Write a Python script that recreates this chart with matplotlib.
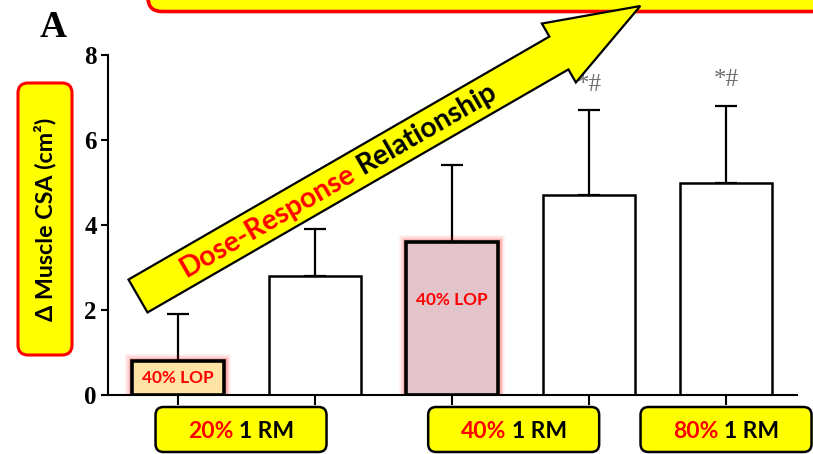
import matplotlib
matplotlib.use("Agg")
import matplotlib.pyplot as plt
import matplotlib.patheffects as pe
from matplotlib.patches import FancyBboxPatch, Polygon
from matplotlib.transforms import Affine2D
import numpy as np

# Change in muscle cross-sectional area for each training condition
conditions = ["20% 1 RM + LOP", "20% 1 RM", "40% 1 RM + LOP", "40% 1 RM", "80% 1 RM"]
csa_change = [0.8, 2.8, 3.6, 4.7, 5.0]
csa_sd = [1.1, 1.1, 1.8, 2.0, 1.8]
sig_marks = ["", "", "", "*#", "*#"]
bar_notes = ["40% LOP", "", "40% LOP", "", ""]
yticks = [0, 2, 4, 6, 8]

# Load-intensity groups shown under the axis
intensity = ["20%", "40%", "80%"]
intensity_unit = "1 RM"
intensity_at = [0.46, 2.45, 4.0]

W, H = 813, 454
YELLOW = "#FFFF00"
RED = "#FF0000"

fig = plt.figure(figsize=(W / 100, H / 100), dpi=100)
ax = fig.add_axes([108 / W, 1 - 395 / H, (797 - 108) / W, (395 - 55) / H])

# pixel frame with origin at the top-left corner of the figure
px = Affine2D().scale(1 / W, -1 / H).translate(0, 1) + fig.transFigure
renderer = fig.canvas.get_renderer()

SANS_BOLD = dict(family=["Lato", "DejaVu Sans"], weight="bold")


def text_width(s, size, **kw):
    t = fig.text(0, 0, s, fontsize=size, **kw)
    w = t.get_window_extent(renderer).width
    t.remove()
    return w


def fitted_size(s, target_px, **kw):
    return 10 * target_px / text_width(s, 10, **kw)


# ---- bars -------------------------------------------------------------
x = np.arange(len(conditions))
fills = ["#FFE4A6", "white", "#E3C4CB", "white", "white"]
edge_w = [2.6, 1.8, 2.6, 1.8, 1.8]
note_frac = [0.5, 0, 0.62, 0, 0]

ax.errorbar(x, csa_change, yerr=[np.zeros(len(x)), csa_sd], fmt="none",
            ecolor="black", elinewidth=1.6, capsize=8, capthick=1.6, zorder=1)
bars = ax.bar(x, csa_change, width=0.67, color=fills, edgecolor="black",
              linewidth=edge_w, zorder=2)

note_size = fitted_size("40% LOP", 72, **SANS_BOLD)
glow = [pe.Stroke(linewidth=10, foreground=RED, alpha=0.06),
        pe.Stroke(linewidth=7.5, foreground=RED, alpha=0.1),
        pe.Stroke(linewidth=5, foreground=RED, alpha=0.18),
        pe.Normal()]
for b, note, frac, h in zip(bars, bar_notes, note_frac, csa_change):
    if note:
        b.set_path_effects(glow)
        ax.text(b.get_x() + b.get_width() / 2, h * frac, note, ha="center",
                va="center", color=RED, fontsize=note_size, zorder=3, **SANS_BOLD)

for xi, m, s, mark in zip(x, csa_change, csa_sd, sig_marks):
    if mark:
        ax.text(xi, m + s + 0.6, mark, ha="center", va="center",
                family="Liberation Serif", fontsize=18, color="#6E6E6E", zorder=3)

# ---- axes -------------------------------------------------------------
ax.set_xlim(-0.511, 4.518)
ax.set_ylim(0, 8)
ax.set_yticks(yticks)
ax.set_xticks(x)
ax.tick_params(axis="x", length=7, width=1.5, labelbottom=False)
ax.tick_params(axis="y", length=5, width=1.5, pad=3, labelsize=18)
for lab in ax.get_yticklabels():
    lab.set_fontfamily("Liberation Serif")
    lab.set_fontweight("bold")
for side in ("top", "right"):
    ax.spines[side].set_visible(False)
for side in ("left", "bottom"):
    ax.spines[side].set_linewidth(1.5)

# panel letter
fig.text(40, 37, "A", transform=px, family="Liberation Serif", weight="bold",
         fontsize=27, va="baseline", ha="left")

# banner along the top edge
fig.add_artist(FancyBboxPatch((148, -60), 800, 71.5,
                              boxstyle="round,pad=0,rounding_size=14",
                              transform=px, fc=YELLOW, ec=RED, lw=2.6, zorder=1))

# y-axis label in a rounded box
fig.add_artist(FancyBboxPatch((18, 83), 54, 272,
                              boxstyle="round,pad=0,rounding_size=10",
                              transform=px, fc=YELLOW, ec=RED, lw=2.2, zorder=1))
ylab = "\u0394 Muscle CSA (cm\u00b2)"
fig.text(45, 219, ylab, transform=px, rotation=90, ha="center", va="center",
         fontsize=fitted_size(ylab, 204, **SANS_BOLD), color="black", zorder=2,
         **SANS_BOLD)

# intensity boxes under the x axis
rm_size = fitted_size("20% 1 RM", 106, **SANS_BOLD)
for name, xpos in zip(intensity, intensity_at):
    cx = ax.transData.transform((xpos, 0))[0]
    fig.add_artist(FancyBboxPatch((cx - 85.5, 407), 171, 45,
                                  boxstyle="round,pad=0,rounding_size=8",
                                  transform=px, fc=YELLOW, ec="black", lw=1.8,
                                  zorder=1))
    full = text_width(f"{name} {intensity_unit}", rm_size, **SANS_BOLD)
    fig.text(cx - full / 2, 431, name, transform=px, ha="left", va="center",
             color=RED, fontsize=rm_size, zorder=2, **SANS_BOLD)
    fig.text(cx + full / 2, 431, intensity_unit, transform=px, ha="right",
             va="center", color="black", fontsize=rm_size, zorder=2, **SANS_BOLD)

# dose-response arrow
ang = np.deg2rad(30)
u = np.array([np.cos(ang), -np.sin(ang)])
n = np.array([np.sin(ang), np.cos(ang)])
c0 = np.array([138.0, 296.0])
body_len, head_len, body_hw, head_hw = 486, 94, 19, 34
base = c0 + body_len * u
pts = [c0 - body_hw * n, base - body_hw * n, base - head_hw * n,
       c0 + (body_len + head_len) * u, base + head_hw * n, base + body_hw * n,
       c0 + body_hw * n]
fig.add_artist(Polygon(pts, closed=True, transform=px, fc=YELLOW, ec="black",
                       lw=1.6, joinstyle="miter", zorder=5))

part1, part2 = "Dose-Response", "Relationship"
arrow_txt = f"{part1} {part2}"
arrow_size = fitted_size(arrow_txt, 362, **SANS_BOLD)
full = text_width(arrow_txt, arrow_size, **SANS_BOLD)
mid = 232
p_start = c0 + (mid - full / 2) * u
p_end = c0 + (mid + full / 2) * u
fig.text(*p_start, part1, transform=px, rotation=30, rotation_mode="anchor",
         ha="left", va="center", color=RED, fontsize=arrow_size, zorder=6,
         **SANS_BOLD)
fig.text(*p_end, part2, transform=px, rotation=30, rotation_mode="anchor",
         ha="right", va="center", color="black", fontsize=arrow_size, zorder=6,
         **SANS_BOLD)

fig.savefig("out.png", dpi=100)
